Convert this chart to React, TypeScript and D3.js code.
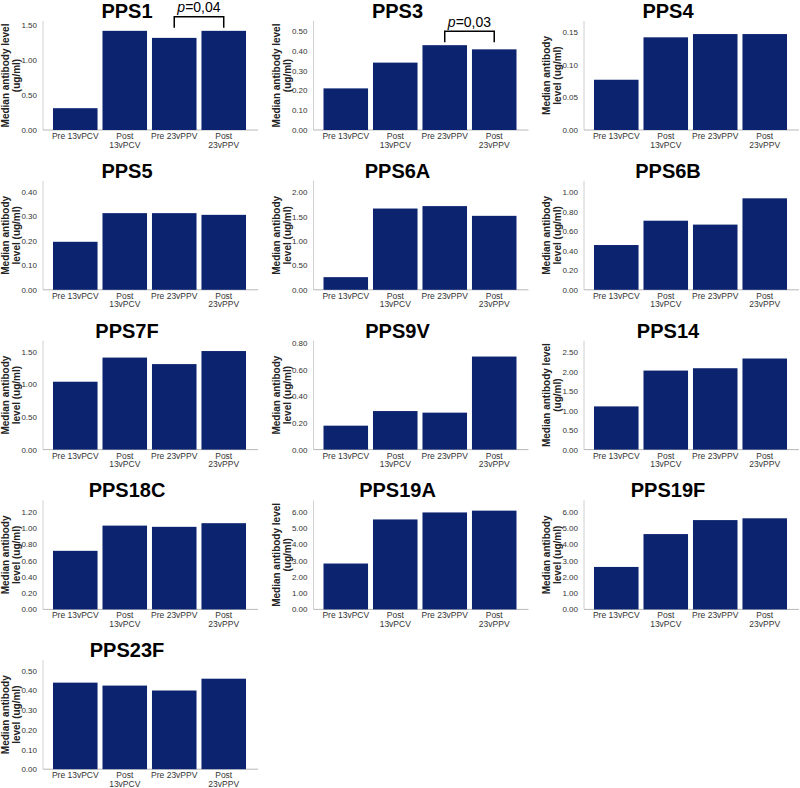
import React, { useEffect, useRef } from "react";
import * as d3 from "d3";

// groups on the x axis
const groups = ["Pre 13vPCV", "Post 13vPCV", "Pre 23vPPV", "Post 23vPPV"];
const groupLabels = [["Pre 13vPCV"], ["Post", "13vPCV"], ["Pre 23vPPV"], ["Post", "23vPPV"]];

const serotypes = ["PPS1", "PPS3", "PPS4", "PPS5", "PPS6A", "PPS6B", "PPS7F", "PPS9V", "PPS14", "PPS18C", "PPS19A", "PPS19F", "PPS23F"];

// median antibody levels (ug/ml), one array per serotype
const pps1 = [0.31, 1.41, 1.31, 1.41];
const pps3 = [0.21, 0.34, 0.428, 0.407];
const pps4 = [0.077, 0.142, 0.147, 0.147];
const pps5 = [0.196, 0.313, 0.313, 0.306];
const pps6a = [0.26, 1.67, 1.72, 1.52];
const pps6b = [0.46, 0.71, 0.67, 0.94];
const pps7f = [1.04, 1.41, 1.31, 1.51];
const pps9v = [0.18, 0.29, 0.278, 0.7];
const pps14 = [1.11, 2.03, 2.09, 2.34];
const pps18c = [0.72, 1.03, 1.015, 1.06];
const pps19a = [2.82, 5.53, 5.96, 6.07];
const pps19f = [2.61, 4.63, 5.49, 5.6];
const pps23f = [0.44, 0.425, 0.4, 0.46];
const medians = [pps1, pps3, pps4, pps5, pps6a, pps6b, pps7f, pps9v, pps14, pps18c, pps19a, pps19f, pps23f];

// axis end and tick step per panel
const axisMax = [1.55, 0.55, 0.167, 0.445, 2.24, 1.12, 1.67, 0.82, 2.8, 1.34, 6.7, 6.7, 0.554];
const tickStep = [0.5, 0.1, 0.05, 0.1, 0.5, 0.2, 0.5, 0.2, 0.5, 0.2, 1, 1, 0.1];

// true -> "Median antibody level" / "(ug/ml)", false -> "Median antibody" / "level (ug/ml)"
const longFirstLine = [true, true, false, false, false, false, false, false, true, false, true, false, false];

// p values between Pre 23vPPV and Post 23vPPV
const pLabels = ["0,04", "0,03", null, null, null, null, null, null, null, null, null, null, null];

const FONT = "Arial, 'Liberation Sans', sans-serif";

export default function App() {
	const svgRef = useRef(null);

	useEffect(() => {
		const svg = d3.select(svgRef.current);
		svg.selectAll("*").remove();

		const colW = 270.5,
			rowH = 159.8,
			base = 130,
			plotH = 109,
			left = 43,
			right = 258;

		const x = d3.scaleBand().domain(groups).range([53, 246]).paddingInner(0.1);

		serotypes.forEach((name, k) => {
			const col = k % 3,
				row = Math.floor(k / 3);
			const g = svg
				.append("g")
				.attr("transform", `translate(${col * colW},${row * rowH})`);

			const y = d3.scaleLinear().domain([0, axisMax[k]]).range([base, base - plotH]);
			const ticks = d3.range(0, axisMax[k] + 1e-9, tickStep[k]);

			// title
			g.append("text")
				.attr("x", 127)
				.attr("y", base - 112)
				.attr("text-anchor", "middle")
				.attr("font-family", FONT)
				.attr("font-weight", "bold")
				.attr("font-size", 20)
				.text(name);

			// axis lines
			g.append("line")
				.attr("x1", left)
				.attr("x2", left)
				.attr("y1", base - plotH)
				.attr("y2", base)
				.attr("stroke", "#d0d0d0");
			g.append("line")
				.attr("x1", left)
				.attr("x2", right)
				.attr("y1", base)
				.attr("y2", base)
				.attr("stroke", "#b8b8b8");

			// y ticks
			g.selectAll(".ytick")
				.data(ticks)
				.join("text")
				.attr("x", left - 6)
				.attr("y", (d) => y(d) + 3)
				.attr("text-anchor", "end")
				.attr("font-family", FONT)
				.attr("font-size", 8)
				.attr("fill", "#333")
				.text((d) => d3.format(".2f")(d));

			// y label
			const lines = longFirstLine[k]
				? ["Median antibody level", "(ug/ml)"]
				: ["Median antibody", "level (ug/ml)"];
			const midY = base - plotH / 2;
			lines.forEach((t, i) => {
				g.append("text")
					.attr("transform", `translate(${9 + i * 11},${midY}) rotate(-90)`)
					.attr("text-anchor", "middle")
					.attr("font-family", FONT)
					.attr("font-weight", "bold")
					.attr("font-size", 10)
					.attr("fill", "#222")
					.text(t);
			});

			// bars
			g.selectAll(".bar")
				.data(medians[k])
				.join("rect")
				.attr("x", (d, i) => x(groups[i]))
				.attr("y", (d) => y(d))
				.attr("width", x.bandwidth())
				.attr("height", (d) => base - y(d))
				.attr("fill", "#0c2470");

			// x labels
			groupLabels.forEach((ls, i) => {
				ls.forEach((t, j) => {
					g.append("text")
						.attr("x", x(groups[i]) + x.bandwidth() / 2)
						.attr("y", base + 9 + j * 8.5)
						.attr("text-anchor", "middle")
						.attr("font-family", FONT)
						.attr("font-size", 8.5)
						.attr("fill", "#333")
						.text(t);
				});
			});

			// significance bracket
			if (pLabels[k]) {
				const x1 = x(groups[2]) + x.bandwidth() / 2;
				const x2 = x(groups[3]) + x.bandwidth() / 2;
				const top = y(Math.max(medians[k][2], medians[k][3]));
				const by = top - 14;
				g.append("path")
					.attr("d", `M${x1},${top - 3}V${by}H${x2}V${top - 3}`)
					.attr("fill", "none")
					.attr("stroke", "#000")
					.attr("stroke-width", 1.5);
				const pt = g
					.append("text")
					.attr("x", (x1 + x2) / 2)
					.attr("y", by - 4.5)
					.attr("text-anchor", "middle")
					.attr("font-family", FONT)
					.attr("font-size", 14);
				pt.append("tspan").attr("font-style", "italic").text("p");
				pt.append("tspan").text("=" + pLabels[k]);
			}
		});
	}, []);

	return (
		<svg
			ref={svgRef}
			width={800}
			height={788}
			style={{ position: "absolute", left: 0, top: 0, background: "#fff" }}
		></svg>
	);
}
